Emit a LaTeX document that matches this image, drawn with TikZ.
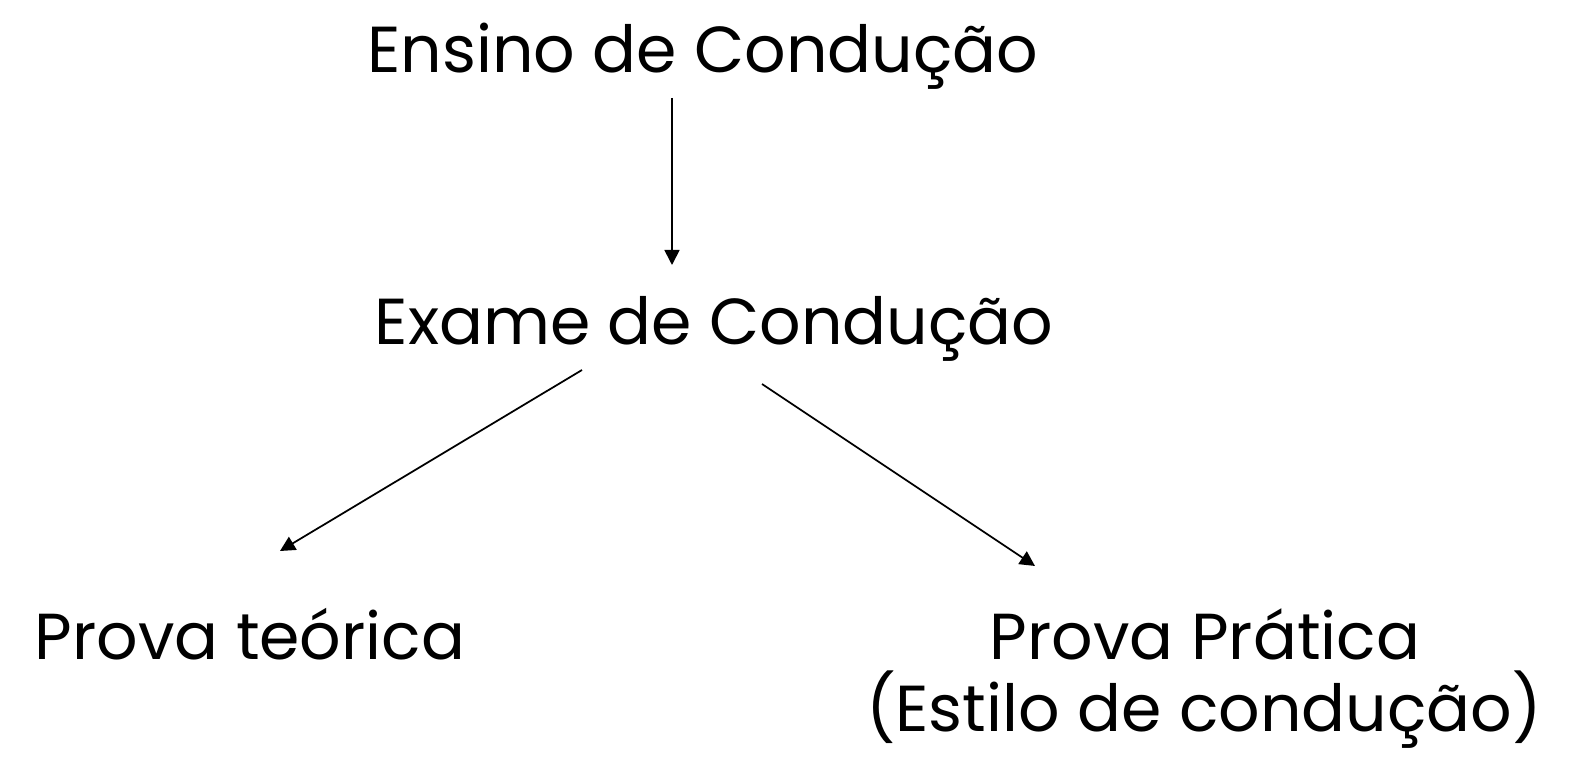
\documentclass[tikz,border=0pt]{standalone}
\usepackage{fontspec}
\setmainfont{Poppins}
\usepackage{tikz}
\usetikzlibrary{arrows.meta}

\tikzset{
    label text/.style={anchor=base, inner sep=0pt, font=\fontsize{37}{52}\selectfont},
    branch/.style={-{Triangle[length=0.3cm, width=0.3cm]}, line width=1pt}
}

\begin{document}
\begin{tikzpicture}[x=0.02cm, y=-0.02cm]

    % Frame
    \useasboundingbox (0, 0) rectangle (1573, 759);

    % Titles
    \node[label text] (ensino) at (703, 73) {Ensino de Condução};
    \node[label text] (exame) at (714, 345) {Exame de Condução};

    % Tests
    \node[label text] (teorica) at (250, 660) {Prova teórica};
    \node[label text] (pratica) at (1205, 660) {Prova Prática};
    \node[label text] (estilo) at (1204, 732) {(Estilo de condução)};

    % Arrow ends
    \coordinate (ensinoOut) at (672, 98);
    \coordinate (exameIn) at (672, 265);
    \coordinate (exameLeft) at (582, 370);
    \coordinate (teoricaIn) at (280, 551);
    \coordinate (exameRight) at (762, 384);
    \coordinate (praticaIn) at (1035, 566);

    % Arrows
    \draw[branch] (ensinoOut) -- (exameIn);
    \draw[branch] (exameLeft) -- (teoricaIn);
    \draw[branch] (exameRight) -- (praticaIn);

\end{tikzpicture}
\end{document}
